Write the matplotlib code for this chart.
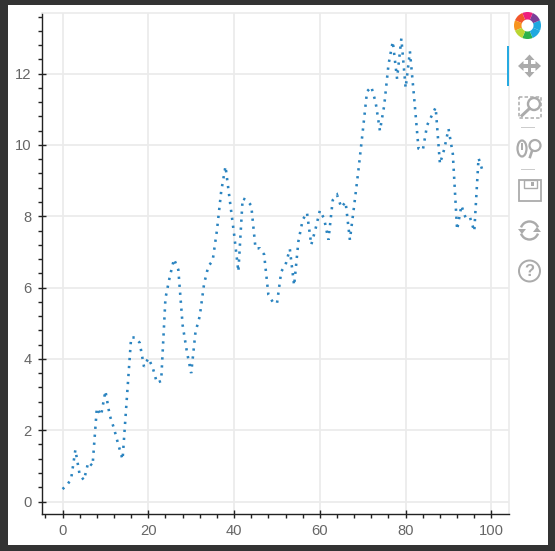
import matplotlib.pyplot as plt
from matplotlib.patches import Circle, Ellipse, Rectangle, Wedge, Polygon, Arc

plt.rcParams['font.family'] = ['Liberation Sans', 'DejaVu Sans']
plt.rcParams['lines.scale_dashes'] = False

W, H = 555, 551
PX = 0.72  # 1 px in points at dpi 100

xs = list(range(99))
ys = [0.35, 0.45, 0.63, 1.45, 0.75, 0.6, 1.1, 1.0, 2.62, 2.42,
      3.1, 2.42, 2.05, 1.6, 1.18, 2.9, 4.6, 4.6, 4.45, 3.78,
      4.02, 3.77, 3.33, 3.38, 5.7, 6.3, 6.8, 6.5, 4.95, 4.2,
      3.6, 4.75, 5.2, 6.1, 6.6, 6.75, 7.6, 8.7, 9.4, 8.45,
      7.5, 6.45, 8.5, 8.45, 8.3, 7.1, 7.1, 6.93, 5.8, 5.6,
      5.55, 6.45, 6.64, 7.08, 6.06, 7.3, 7.9, 8.1, 7.2, 7.65,
      8.16, 7.93, 7.34, 8.45, 8.6, 8.25, 8.4, 7.34, 8.3, 9.3,
      10.38, 11.5, 11.63, 11.2, 10.4, 11.1, 12.25, 12.9, 11.86, 12.98,
      11.6, 12.62, 11.3, 9.9, 9.85, 10.55, 10.8, 11.05, 9.47, 9.88,
      10.45, 9.75, 7.62, 8.3, 7.95, 7.97, 7.58, 9.63, 9.25]

x_major = [0, 20, 40, 60, 80, 100]
y_major = [0, 2, 4, 6, 8, 10, 12]
x_minor = list(range(-4, 104, 4))
y_minor = [i * 0.4 for i in range(0, 35)]

logo_colors = ['#2BB24C', '#1FA8E0', '#1FA8E0', '#7B3F98', '#ED1F7E', '#F2572B', '#F7941E', '#B9D532']

DARK = '#333333'
GRID = '#EBEBEB'
ICON = '#ABABAB'

fig = plt.figure(figsize=(W / 100, H / 100), dpi=100, facecolor=DARK)

# pixel canvas for page background and the toolbar
bg = fig.add_axes([0, 0, 1, 1], zorder=0)
bg.set_xlim(0, W)
bg.set_ylim(H, 0)
bg.axis('off')
bg.add_patch(Rectangle((8, 5), 540, 540, fc='white', ec='none'))

left, right, top, bottom = 41.5, 509, 13, 514
ax = fig.add_axes([left / W, 1 - bottom / H, (right - left) / W, (bottom - top) / H], zorder=1)
ax.patch.set_alpha(0)
ax.plot(xs, ys, color='#2b84c0', linewidth=2.6 * PX, linestyle=(0, (2.3 * PX, 5.7 * PX)),
        dash_capstyle='butt', dash_joinstyle='miter', zorder=3)
ax.set_xlim(-4.9, 104.1)
ax.set_ylim(-0.35, 13.7)
ax.set_xticks(x_major)
ax.set_yticks(y_major)
ax.set_xticks([v for v in x_minor if v not in x_major], minor=True)
ax.set_yticks([v for v in y_minor if round(v, 1) not in y_major], minor=True)
ax.grid(True, which='major', color=GRID, linewidth=1.7 * PX)
ax.set_axisbelow(True)
ax.tick_params(which='major', direction='inout', length=8 * PX, width=1.4 * PX, color='#222222',
               labelsize=10.6, labelcolor='#666666', pad=4.5)
ax.tick_params(which='minor', direction='out', length=4 * PX, width=1.4 * PX, color='#222222')
for side in ['top', 'right']:
    ax.spines[side].set_color(GRID)
    ax.spines[side].set_linewidth(1.6 * PX)
for side in ['left', 'bottom']:
    ax.spines[side].set_color('#222222')
    ax.spines[side].set_linewidth(1.4 * PX)

# toolbar
fig.add_artist(Rectangle((507, 46), 2, 40, fc='#26AAE1', ec='none', transform=bg.transData, zorder=5))

# logo
cx, cy = 527.5, 25.5
for i, c in enumerate(logo_colors):
    start = 112.5 - (i + 1) * 45
    bg.add_patch(Wedge((cx, cy), 13.5, start, start + 45, width=7.5, fc=c, ec='none'))

# pan
cx, cy = 529.5, 66
bg.add_patch(Rectangle((cx - 9, cy - 1.7), 18, 3.4, fc=ICON, ec='none'))
bg.add_patch(Rectangle((cx - 1.7, cy - 9), 3.4, 18, fc=ICON, ec='none'))
for sx, sy in [(1, 0), (-1, 0), (0, 1), (0, -1)]:
    tip = (cx + sx * 11.5, cy + sy * 11.5)
    b1 = (cx + sx * 6 + sy * 5, cy + sy * 6 + sx * 5)
    b2 = (cx + sx * 6 - sy * 5, cy + sy * 6 - sx * 5)
    bg.add_patch(Polygon([tip, b1, b2], fc=ICON, ec='none'))

# box zoom
bg.add_patch(Rectangle((518.5, 96.5), 22, 21.5, fc='none', ec=ICON, lw=1.5 * PX, ls=(0, (2.5, 1.5))))
bg.add_patch(Circle((534, 104), 6, fc='white', ec=ICON, lw=2.4 * PX))
bg.plot([529.5, 522], [108.5, 115.5], color=ICON, lw=3 * PX)
bg.plot([521, 534], [127, 127], color='#CCCCCC', lw=1 * PX)

# wheel zoom
bg.add_patch(Ellipse((522, 148.5), 9, 16, fc='white', ec=ICON, lw=2.2 * PX))
bg.plot([522, 522], [144, 149], color=ICON, lw=2 * PX)
bg.add_patch(Circle((535, 145.5), 5.5, fc='white', ec=ICON, lw=2.2 * PX))
bg.plot([532, 530], [151, 157], color=ICON, lw=2.6 * PX)
bg.plot([521, 534], [169, 169], color='#CCCCCC', lw=1 * PX)

# save
bg.add_patch(Rectangle((518.5, 179.5), 22, 21.5, fc='white', ec=ICON, lw=1.8 * PX))
bg.add_patch(Rectangle((523.5, 179.5), 13, 8.5, fc='white', ec=ICON, lw=1.4 * PX))
bg.add_patch(Rectangle((531, 182), 3, 4, fc=ICON, ec='none'))

# reset
cx, cy = 529.5, 230.5
bg.add_patch(Arc((cx, cy), 18, 18, theta1=20, theta2=160, ec=ICON, lw=2.4 * PX))
bg.add_patch(Arc((cx, cy), 18, 18, theta1=200, theta2=340, ec=ICON, lw=2.4 * PX))
bg.add_patch(Polygon([(518, 229), (526, 229), (522, 234)], fc=ICON, ec='none'))
bg.add_patch(Polygon([(533, 232), (541, 232), (537, 227)], fc=ICON, ec='none'))

# help
bg.add_patch(Circle((529.5, 271), 10.5, fc='white', ec=ICON, lw=2 * PX))
bg.text(529.5, 271.5, '?', color=ICON, fontsize=12, fontweight='bold', ha='center', va='center')

fig.savefig('out.png', dpi=100, facecolor=DARK)
